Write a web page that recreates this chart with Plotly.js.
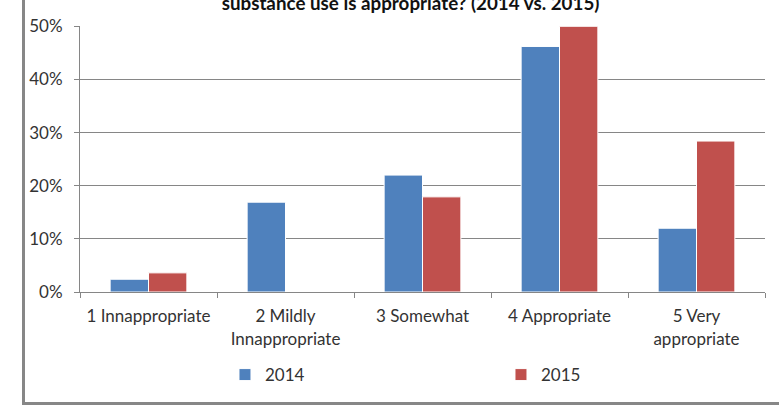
<!DOCTYPE html>
<html>
<head>
<meta charset="utf-8">
<script src="https://cdn.plot.ly/plotly-3.0.1.min.js"></script>
<style>
html,body{margin:0;padding:0;background:#fff;overflow:hidden;}
#chart{position:absolute;left:0;top:0;width:779px;height:405px;}
#frame{position:absolute;left:22px;top:-10px;width:820px;height:415px;border:3px solid #878787;box-sizing:border-box;pointer-events:none;}
</style>
</head>
<body>
<div id="chart"></div>
<div id="frame"></div>
<script>
const categories = ["1 Innappropriate", "2 Mildly<br>Innappropriate", "3 Somewhat", "4 Appropriate", "5 Very<br>appropriate"];
const values2014 = [0.024, 0.169, 0.220, 0.462, 0.120];
const values2015 = [0.036, 0, 0.179, 0.500, 0.284];
const seriesNames = ["2014", "2015"];
const tickVals = [0, 0.1, 0.2, 0.3, 0.4, 0.5];
const tickText = ["0%", "10%", "20%", "30%", "40%", "50%"];
const titleText = "substance use is appropriate? (2014 vs. 2015)";

const font = "Lato, 'Open Sans', sans-serif";
const traces = [
  {type:"bar", name:seriesNames[0], x:categories, y:values2014,
   marker:{color:"#4F81BD", line:{color:"#ffffff", width:1}}, hoverinfo:"none"},
  {type:"bar", name:seriesNames[1], x:categories, y:values2015,
   marker:{color:"#C0504D", line:{color:"#ffffff", width:1}}, hoverinfo:"none"}
];
const layout = {
  width:779, height:405,
  margin:{l:80, r:14, t:26, b:113},
  paper_bgcolor:"#ffffff", plot_bgcolor:"#ffffff",
  font:{family:font, size:17, color:"#333333"},
  barmode:"group", bargap:0.44, bargroupgap:0,
  title:{text:"<b>"+titleText+"</b>", font:{family:font, size:18.8, color:"#111111"},
         x:0.527, xanchor:"center", yref:"container", y:0.975, yanchor:"bottom", automargin:false},
  xaxis:{type:"category", tickson:"boundaries", ticks:"outside", ticklen:5, tickcolor:"#868686",
         tickangle:0, automargin:false, ticklabelstandoff:9,
         showline:true, linecolor:"#868686", linewidth:1, showgrid:false,
         tickfont:{family:font, size:17, color:"#333333"}, fixedrange:true},
  yaxis:{range:[0, 0.5005], tickvals:tickVals, ticktext:tickText, ticks:"outside", ticklen:5,
         tickcolor:"#868686", showline:true, linecolor:"#868686", linewidth:1, automargin:false,
         showgrid:true, gridcolor:"#868686", gridwidth:1, zeroline:false,
         tickfont:{family:font, size:17, color:"#333333"}, ticklabelstandoff:8, fixedrange:true},
  showlegend:true,
  legend:{orientation:"h", xref:"container", yref:"container", x:0.2888, xanchor:"left",
          y:0.074, yanchor:"middle",
          entrywidth:231, entrywidthmode:"pixels", font:{family:font, size:17, color:"#333333"},
          bgcolor:"rgba(0,0,0,0)"}
};
Plotly.newPlot("chart", traces, layout, {displayModeBar:false, staticPlot:true});
</script>
</body>
</html>
